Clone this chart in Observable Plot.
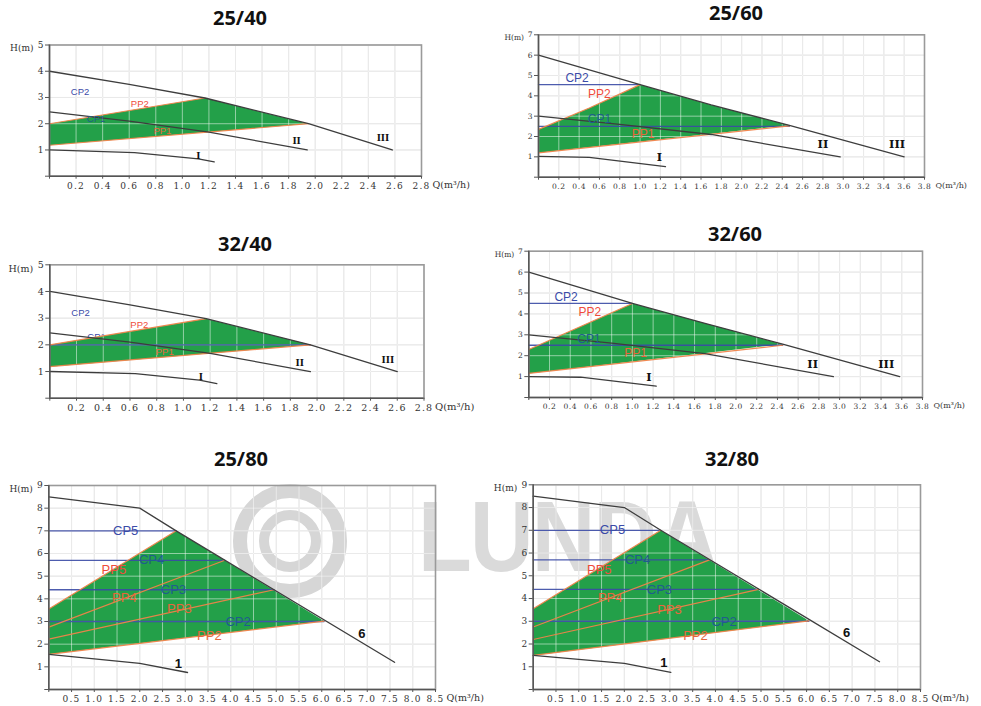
<!DOCTYPE html>
<html><head><meta charset="utf-8">
<script src="https://cdn.jsdelivr.net/npm/d3@7"></script>
<script src="https://cdn.jsdelivr.net/npm/@observablehq/plot@0.6"></script>
<style>
body{margin:0;background:#fff;}
#root{position:relative;width:981px;height:706px;overflow:hidden;background:#fff;}
.title{position:absolute;font-family:"Open Sans",sans-serif;font-weight:700;font-size:20px;color:#111;transform:translate(-50%,-50%);white-space:nowrap;z-index:2;}
.panel{position:absolute;z-index:1;}
.wm{position:absolute;z-index:0;}
.ring{position:absolute;border-radius:50%;border-style:solid;border-color:#d6d6d6;box-sizing:border-box;}
.wmtext{position:absolute;font-family:"Liberation Sans",sans-serif;font-weight:700;font-size:100px;color:#dadada;letter-spacing:-2px;line-height:1;white-space:nowrap;transform:scaleX(0.88);transform-origin:left top;}
</style></head><body><div id="root"></div>
<script>
// ---------- data ----------
const titles = ["25/40", "25/60", "32/40", "32/60", "25/80", "32/80"];

const xTicks28 = [0.2,0.4,0.6,0.8,1.0,1.2,1.4,1.6,1.8,2.0,2.2,2.4,2.6,2.8];
const xTicks38 = [0.2,0.4,0.6,0.8,1.0,1.2,1.4,1.6,1.8,2.0,2.2,2.4,2.6,2.8,3.0,3.2,3.4,3.6,3.8];
const xTicks85 = [0.5,1.0,1.5,2.0,2.5,3.0,3.5,4.0,4.5,5.0,5.5,6.0,6.5,7.0,7.5,8.0,8.5];
const yTicks5 = [1,2,3,4,5];
const yTicks7 = [1,2,3,4,5,6,7];
const yTicks9 = [1,2,3,4,5,6,7,8,9];

// 25/40
const p1_curveIII = [[0,4.0],[0.6,3.5],[1.17,2.98],[1.95,2.0],[2.58,1.0]];
const p1_curveII  = [[0,2.45],[0.6,2.1],[1.2,1.68],[1.94,1.0]];
const p1_curveI   = [[0,1.0],[0.64,0.9],[1.12,0.66],[1.24,0.55]];
const p1_pp2 = [[0,2.0],[1.17,2.98]];
const p1_pp1 = [[0,1.18],[1.95,2.0]];
const p1_cp  = [];
const p1_zone = [[0,1.18],[0,2.0],[1.17,2.98],[1.95,2.0]];
const p1_labels = [
  {t:"CP2",x:0.23,y:3.2,k:"cp"},{t:"PP2",x:0.68,y:2.75,k:"pp"},
  {t:"CP1",x:0.35,y:2.2,k:"cpIn"},{t:"PP1",x:0.85,y:1.73,k:"ppIn"},
  {t:"I",x:1.12,y:0.78,k:"roman"},{t:"II",x:1.86,y:1.35,k:"roman"},{t:"III",x:2.51,y:1.45,k:"roman"}];

// 25/60
const p2_curveIII = [[0,6.0],[1.0,4.55],[1.7,3.55],[2.47,2.55],[3.6,1.0]];
const p2_curveII  = [[0,3.0],[0.8,2.6],[1.7,2.1],[2.97,1.0]];
const p2_curveI   = [[0,1.02],[0.5,0.97],[1.25,0.52]];
const p2_pp2 = [[0,2.35],[0.5,3.4],[1.0,4.55]];
const p2_pp1 = [[0,1.2],[2.47,2.52]];
const p2_cp  = [[[0,4.55],[1.0,4.55]], [[0,2.5],[2.47,2.5]]];
const p2_zone = [[0,1.2],[0,2.35],[0.5,3.4],[1.0,4.55],[1.7,3.55],[2.47,2.55]];
const p2_labels = [
  {t:"CP2",x:0.38,y:4.89,k:"cp"},{t:"PP2",x:0.6,y:4.1,k:"pp"},
  {t:"CP1",x:0.6,y:2.84,k:"cpIn"},{t:"PP1",x:1.03,y:2.1,k:"ppIn"},
  {t:"I",x:1.19,y:0.98,k:"roman"},{t:"II",x:2.8,y:1.6,k:"roman"},{t:"III",x:3.53,y:1.6,k:"roman"}];

// 32/40
const p3_curveIII = [[0,4.0],[0.6,3.5],[1.17,2.98],[1.95,2.0],[2.6,1.0]];
const p3_curveII  = [[0,2.45],[0.6,2.1],[1.2,1.68],[1.95,1.0]];
const p3_curveI   = [[0,1.0],[0.64,0.92],[1.12,0.68],[1.25,0.55]];
const p3_pp2 = [[0,2.0],[1.17,2.98]];
const p3_pp1 = [[0,1.18],[1.95,2.0]];
const p3_cp  = [[[0,2.0],[1.95,2.0]]];
const p3_zone = [[0,1.18],[0,2.0],[1.17,2.98],[1.95,2.0]];
const p3_labels = [
  {t:"CP2",x:0.23,y:3.2,k:"cp"},{t:"PP2",x:0.67,y:2.73,k:"pp"},
  {t:"CP1",x:0.35,y:2.28,k:"cpUnder"},{t:"PP1",x:0.86,y:1.73,k:"ppIn"},
  {t:"I",x:1.13,y:0.79,k:"roman"},{t:"II",x:1.87,y:1.33,k:"roman"},{t:"III",x:2.53,y:1.41,k:"roman"}];

// 32/60
const p4_curveIII = [[0,6.0],[1.0,4.5],[1.7,3.55],[2.45,2.55],[3.58,1.0]];
const p4_curveII  = [[0,3.0],[0.8,2.6],[1.7,2.1],[2.94,1.0]];
const p4_curveI   = [[0,1.0],[0.5,0.97],[1.23,0.54]];
const p4_pp2 = [[0,2.3],[0.5,3.4],[1.0,4.5]];
const p4_pp1 = [[0,1.15],[2.45,2.5]];
const p4_cp  = [[[0,4.5],[1.0,4.5]], [[0,2.5],[2.45,2.5]]];
const p4_zone = [[0,1.15],[0,2.3],[0.5,3.4],[1.0,4.5],[1.7,3.55],[2.45,2.55]];
const p4_labels = [
  {t:"CP2",x:0.36,y:4.8,k:"cp"},{t:"PP2",x:0.59,y:4.08,k:"pp"},
  {t:"CP1",x:0.58,y:2.8,k:"cpIn"},{t:"PP1",x:1.03,y:2.12,k:"ppIn"},
  {t:"I",x:1.16,y:0.97,k:"roman"},{t:"II",x:2.74,y:1.61,k:"roman"},{t:"III",x:3.45,y:1.61,k:"roman"}];

// 25/80
const p5_curve6 = [[0,8.5],[2.0,8.0],[2.8,7.0],[7.6,1.2]];
const p5_curve1 = [[0,1.55],[2.0,1.15],[3.05,0.75]];
const p5_pp = [[[0,3.55],[2.8,7.0]], [[0,2.75],[3.87,5.7]], [[0,2.22],[4.95,4.4]], [[0,1.55],[6.05,3.02]]];
const p5_cp = [[[0,7.0],[2.8,7.0]], [[0,5.7],[3.87,5.7]], [[0,4.4],[4.95,4.4]], [[0,3.0],[6.05,3.0]]];
const p5_zone = [[0,1.55],[0,3.55],[2.8,7.0],[6.05,3.02]];
const p5_labels = [
  {t:"CP5",x:1.69,y:7.0,k:"cp"},{t:"CP4",x:2.26,y:5.72,k:"cpIn"},{t:"PP5",x:1.43,y:5.29,k:"pp"},
  {t:"CP3",x:2.74,y:4.41,k:"cpIn"},{t:"PP4",x:1.66,y:4.04,k:"ppIn"},{t:"PP3",x:2.87,y:3.56,k:"ppIn"},
  {t:"CP2",x:4.16,y:2.97,k:"cpIn"},{t:"PP2",x:3.53,y:2.38,k:"ppIn"},
  {t:"6",x:6.88,y:2.46,k:"num"},{t:"1",x:2.85,y:1.13,k:"num"}];

// 32/80
const p6_curve6 = [[0,8.5],[2.0,8.0],[2.8,7.0],[7.6,1.22]];
const p6_curve1 = [[0,1.5],[2.0,1.15],[3.02,0.75]];
const p6_pp = [[[0,3.55],[2.8,7.0]], [[0,2.75],[3.87,5.7]], [[0,2.2],[4.95,4.4]], [[0,1.5],[6.05,3.02]]];
const p6_cp = [[[0,7.0],[2.8,7.0]], [[0,5.7],[3.87,5.7]], [[0,4.4],[4.95,4.4]], [[0,3.0],[6.05,3.0]]];
const p6_zone = [[0,1.5],[0,3.55],[2.8,7.0],[6.05,3.02]];
const p6_labels = [
  {t:"CP5",x:1.74,y:7.02,k:"cp"},{t:"CP4",x:2.29,y:5.72,k:"cpIn"},{t:"PP5",x:1.45,y:5.28,k:"pp"},
  {t:"CP3",x:2.77,y:4.4,k:"cpIn"},{t:"PP4",x:1.69,y:4.03,k:"ppIn"},{t:"PP3",x:2.99,y:3.5,k:"ppIn"},
  {t:"CP2",x:4.19,y:2.96,k:"cpIn"},{t:"PP2",x:3.56,y:2.38,k:"ppIn"},
  {t:"6",x:6.88,y:2.48,k:"num"},{t:"1",x:2.87,y:1.16,k:"num"}];

// ---------- layout ----------
const panels = [
  {title:titles[0], tx:240, ty:17, left:0, top:25, w:490, h:175, mL:49, mR:69, mT:19.5, mB:24.3,
   xMax:2.8, yMax:5, xt:xTicks28, yt:yTicks5, tickFont:9, lab:9.5, curves:[p1_curveIII,p1_curveII,p1_curveI], pp:[p1_pp2,p1_pp1], cp:p1_cp, zone:p1_zone, labels:p1_labels},
  {title:titles[1], tx:736, ty:12, left:490, top:22, w:491, h:178, mL:48, mR:57, mT:12.3, mB:23.3,
   xMax:3.8, yMax:7, xt:xTicks38, yt:yTicks7, tickFont:7.5, lab:12, curves:[p2_curveIII,p2_curveII,p2_curveI], pp:[p2_pp2,p2_pp1], cp:p2_cp, zone:p2_zone, labels:p2_labels},
  {title:titles[2], tx:245, ty:243, left:0, top:250, w:490, h:170, mL:49.3, mR:66.5, mT:14.3, mB:22.3,
   xMax:2.8, yMax:5, xt:xTicks28, yt:yTicks5, tickFont:9.5, lab:9.5, curves:[p3_curveIII,p3_curveII,p3_curveI], pp:[p3_pp2,p3_pp1], cp:p3_cp, zone:p3_zone, labels:p3_labels},
  {title:titles[3], tx:735, ty:233, left:490, top:240, w:491, h:180, mL:38.3, mR:59, mT:10.7, mB:23,
   xMax:3.8, yMax:7, xt:xTicks38, yt:yTicks7, tickFont:7.5, lab:12, curves:[p4_curveIII,p4_curveII,p4_curveI], pp:[p4_pp2,p4_pp1], cp:p4_cp, zone:p4_zone, labels:p4_labels},
  {title:titles[4], tx:241, ty:458, left:0, top:470, w:490, h:236, mL:48.3, mR:55, mT:15, mB:17,
   xMax:8.5, yMax:9, xt:xTicks85, yt:yTicks9, tickFont:9, lab:13, curves:[p5_curve6,p5_curve1], pp:p5_pp, cp:p5_cp, zone:p5_zone, labels:p5_labels},
  {title:titles[5], tx:732, ty:458, left:490, top:470, w:491, h:236, mL:42.7, mR:61, mT:14.3, mB:17,
   xMax:8.5, yMax:9, xt:xTicks85, yt:yTicks9, tickFont:9, lab:13, curves:[p6_curve6,p6_curve1], pp:p6_pp, cp:p6_cp, zone:p6_zone, labels:p6_labels}
];

const GREEN = "#23a049";
const kindStyle = {
  cp:{fill:"#3b4ba8"}, cpIn:{fill:"#1f5d8e"}, cpUnder:{fill:"#3b4ba8"},
  pp:{fill:"#ef4b3b"}, ppIn:{fill:"#e8663c"},
  roman:{fill:"#111", fontWeight:"bold", fontFamily:"DejaVu Serif"},
  num:{fill:"#111", fontWeight:"bold"}
};
const SERIF = "DejaVu Serif";

const root = document.getElementById("root");

// watermark (decorative)
const wm = document.createElement("div");
wm.className = "wm"; wm.style.left = "0px"; wm.style.top = "0px";
wm.innerHTML = `<div class="ring" style="left:233px;top:484px;width:114px;height:114px;border-width:14px"></div>
<div class="ring" style="left:259px;top:510px;width:62px;height:62px;border-width:10px"></div>
<div class="wmtext" style="left:418px;top:486px">LUNDA</div>`;
root.appendChild(wm);

function labelMarks(cfg, kinds) {
  return kinds.map(k => Plot.text(cfg.labels.filter(d => d.k === k), {
    x: "x", y: "y", text: "t", fontSize: (k === "roman" ? cfg.lab * 0.95 : cfg.lab),
    fontFamily: kindStyle[k].fontFamily || "Liberation Sans", fontWeight: kindStyle[k].fontWeight || "normal",
    fill: kindStyle[k].fill
  }));
}

panels.forEach(cfg => {
  const t = document.createElement("div");
  t.className = "title"; t.textContent = cfg.title;
  t.style.left = cfg.tx + "px"; t.style.top = cfg.ty + "px";
  root.appendChild(t);

  const line = (data, stroke, sw, op = 1) => Plot.line(data, {x: d => d[0], y: d => d[1], stroke, strokeWidth: sw, strokeOpacity: op});
  const svg = Plot.plot({
    width: cfg.w, height: cfg.h,
    marginLeft: cfg.mL, marginRight: cfg.mR, marginTop: cfg.mT, marginBottom: cfg.mB,
    x: {domain: [0, cfg.xMax]}, y: {domain: [0, cfg.yMax]},
    style: {background: "transparent", overflow: "visible"},
    marks: [
      Plot.gridX({ticks: cfg.xt, stroke: "#d4d4d4", strokeOpacity: 1, strokeWidth: 1}),
      Plot.gridY({ticks: cfg.yt, stroke: "#d4d4d4", strokeOpacity: 1, strokeWidth: 1}),
      ...labelMarks(cfg, ["cpUnder"]),
      Plot.line(cfg.zone, {x: d => d[0], y: d => d[1], fill: GREEN, stroke: "none"}),
      Plot.gridX({ticks: cfg.xt, stroke: "#ffffff", strokeOpacity: 0.5, strokeWidth: 1}),
      Plot.gridY({ticks: cfg.yt, stroke: "#ffffff", strokeOpacity: 0.5, strokeWidth: 1}),
      Plot.frame({stroke: "#9a9a9a", strokeWidth: 1.6}),
      ...cfg.cp.map(c => line(c, "#3a4aa5", 1.3, 0.9)),
      ...cfg.pp.map(c => line(c, "#f0834a", 1.2, 0.95)),
      ...cfg.curves.map(c => line(c, "#3d3d3d", 1.3)),
      ...labelMarks(cfg, ["cp", "cpIn", "pp", "ppIn", "roman", "num"]),
      Plot.ruleX([0], {stroke: "#555", strokeWidth: 1.5}),
      Plot.ruleY([0], {stroke: "#555", strokeWidth: 1.5}),
      Plot.axisX({ticks: [0, ...cfg.xt], tickFormat: d => d === 0 ? "" : d.toFixed(1), tickSize: 3, tickPadding: 3,
        fontSize: cfg.tickFont, fontFamily: SERIF, stroke: "#555", fill: "#333", label: null}),
      Plot.axisY({ticks: [0, ...cfg.yt], tickFormat: d => d === 0 ? "" : String(d), tickSize: 4, tickPadding: 2,
        fontSize: cfg.tickFont, fontFamily: SERIF, stroke: "#555", fill: "#333", label: null}),
      Plot.text(["H(m)"], {frameAnchor: "top-left", text: d => d, dx: -(cfg.tickFont + 7), textAnchor: "end",
        fontSize: cfg.tickFont, fontFamily: SERIF, fill: "#333"}),
      Plot.text(["Q(m³/h)"], {frameAnchor: "bottom-right", text: d => d, dx: 11, dy: 6 + cfg.tickFont / 2 + 1, textAnchor: "start",
        fontSize: cfg.tickFont + 0.5, fontFamily: SERIF, fill: "#333"})
    ]
  });
  svg.classList.add("panel");
  svg.style.left = cfg.left + "px"; svg.style.top = cfg.top + "px";
  d3.select(svg).selectAll('g[aria-label="x-axis tick label"] text').attr("letter-spacing", cfg.tickFont > 8 ? 1.2 : 0.6);
  root.appendChild(svg);
});
</script></body></html>
